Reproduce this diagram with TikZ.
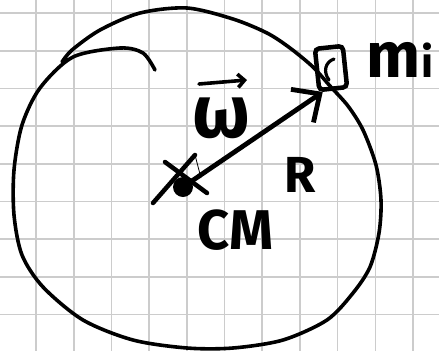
\documentclass[tikz,border=0pt]{standalone}
\usepackage{fontspec}
\setmainfont{Fira Sans}
\usetikzlibrary{arrows.meta}
\begin{document}
\begin{tikzpicture}[x=0.75pt, y=-0.75pt,
    pen/.style={line width=2.7pt, line cap=round, line join=round},
    gridline/.style={line width=1.2pt, black!20},
    massbox/.style={draw, line width=3.4pt, rounded corners=3pt, minimum width=21pt, minimum height=31pt, inner sep=0pt},
    lbl/.style={inner sep=0pt, font=\bfseries\fontsize{38}{38}\selectfont}]
    % paper with grid
    \fill[white] (0,0) rectangle (439,351);
    \useasboundingbox (0,0) rectangle (439,351);
    \foreach \k in {0,...,10}
        \draw[gridline] ({36+37.7*\k},0) -- ({36+37.7*\k},351);
    \foreach \k in {0,...,8}
        \draw[gridline] (0,{13+37.7*\k}) -- (439,{13+37.7*\k});

    % body outline
    \draw[pen] plot[smooth] coordinates {(155,70) (143,53) (120,48) (73,57) (40,88) (22,125) (14,170) (14,215) (22,255) (43,287) (83,320) (133,340) (187,348) (233,348) (283,340) (327,320) (353,293) (370,267) (379,233) (381,200) (376,165) (363,130) (348,106) (330,86) (313,67) (290,48) (267,33) (233,19) (187,8) (140,13) (100,30) (72,50) (62,62)};

    % centre of mass
    \coordinate (cm) at (183,187);
    \fill (cm) circle (10);
    \draw[pen, line width=3.4pt] (153,203) -- (195,155);
    \draw[pen, line width=3.4pt] (165,162) -- (207,193);
    \draw[line width=0.6pt] (195,155) -- (201,178);

    % point mass
    \node[massbox, rotate=6] (mass) at (331,68) {};
    \draw[pen, line width=2.4pt] (334,59) .. controls (325,62) and (323,72) .. (329,80);

    % radius vector
    \draw[pen, line width=3.6pt, -{Straight Barb[length=16pt, width=30pt]}] (cm) -- (mass.245);

    % labels
    \node[lbl, font=\bfseries\fontsize{56}{56}\selectfont] (omega) at (221,118) {ω};
    \coordinate (wtail) at (199,84);
    \coordinate (whead) at (247,80);
    \draw[pen, -{Straight Barb[length=5pt, width=10pt]}] (wtail) -- (whead);
    \node[lbl] (rlabel) at (300,175) {R};
    \node[lbl, font=\bfseries\fontsize{42}{42}\selectfont] (cmlabel) at (235,230) {CM};
    \node[lbl, font=\bfseries\fontsize{48}{48}\selectfont] (mlabel) at (400,60) {m{\fontsize{32}{32}\selectfont i}};
\end{tikzpicture}
\end{document}
